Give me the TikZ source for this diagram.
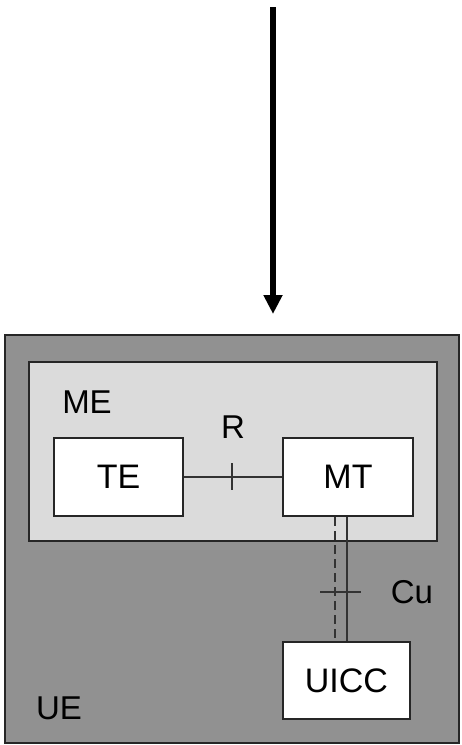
\documentclass[tikz,border=0pt]{standalone}
\usepackage{fontspec}
\setmainfont{Liberation Sans}
\usetikzlibrary{arrows.meta,calc}
\begin{document}
\begin{tikzpicture}[x=1pt,y=-1pt,
  lbl/.style={font=\fontsize{33}{35}\selectfont, inner sep=0pt},
  wbox/.style={draw=black!85, line width=2.6pt, fill=white, inner sep=0pt, font=\fontsize{34}{36}\selectfont},
  conn/.style={draw=black!80, line width=2.2pt},
  tick/.style={draw=black!80, line width=2.6pt}]
\useasboundingbox (0,0) rectangle (461,745);
\fill[white] (0,0) rectangle (461,745);
% arrow
\coordinate (a1) at (273,7);
\coordinate (a2) at (273,314);
\draw[line width=6pt, -{Triangle[width=18pt,length=19pt]}] (a1) -- (a2);
% containers
\node[draw=black!85, line width=2.6pt, fill=black!43, minimum width=454pt, minimum height=408pt, inner sep=0pt] (UE) at (232,539) {};
\node[draw=black!85, line width=2.6pt, fill=black!14, minimum width=408pt, minimum height=179pt, inner sep=0pt] (ME) at (233,451.5) {};
% boxes
\node[wbox, minimum width=129pt, minimum height=78pt] (TE) at (118.5,477) {TE};
\node[wbox, minimum width=130pt, minimum height=78pt] (MT) at (348,477) {MT};
\node[wbox, minimum width=127pt, minimum height=77pt] (UICC) at (346.5,680.5) {UICC};
% labels
\node[lbl] (lME) at (87,402) {ME};
\node[lbl] (lR) at (233,427) {R};
\node[lbl] (lCu) at (412,592) {Cu};
\node[lbl] (lUE) at (59,708) {UE};
% R connector
\draw[conn] (TE.east) -- (MT.west);
\coordinate (rt1) at (232,463);
\coordinate (rt2) at (232,490);
\draw[tick] (rt1) -- (rt2);
% Cu connectors
\coordinate (d1) at ($(MT.south)+(-13,0)$);
\coordinate (s1) at ($(MT.south)+(-1,0)$);
\draw[conn, line width=2.6pt, dash pattern=on 9pt off 5pt] (d1) -- (d1 |- UICC.north);
\draw[conn] (s1) -- (s1 |- UICC.north);
\coordinate (ct1) at (320,592);
\coordinate (ct2) at (361,592);
\draw[tick] (ct1) -- (ct2);
\end{tikzpicture}
\end{document}
